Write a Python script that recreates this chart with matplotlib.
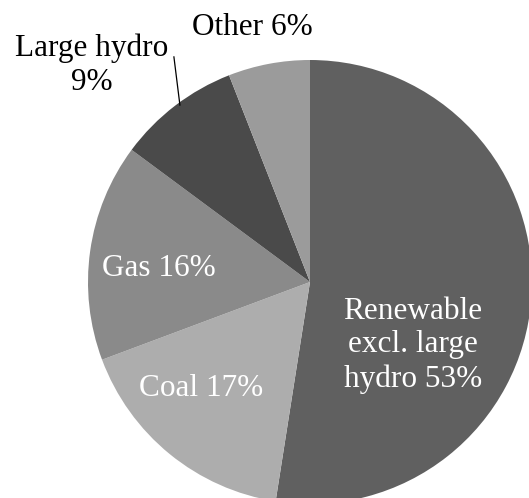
import matplotlib.pyplot as plt

labels = ['Renewable\nexcl. large\nhydro', 'Coal', 'Gas', 'Large hydro\n', 'Other']
shares = [53, 17, 16, 9, 6]
colors = ['#606060', '#adadad', '#8a8a8a', '#4a4a4a', '#9b9b9b']

plt.rcParams['font.family'] = ['Liberation Serif', 'DejaVu Serif']

fig = plt.figure(figsize=(5.29, 4.98), dpi=100)
# pie centre at (310, 282) px from top-left, radius 222 px
cx, cy, r = 310, 282, 222
W, H = 529, 498
ax = fig.add_axes([(cx - r) / W, (H - cy - r) / H, 2 * r / W, 2 * r / H])

ax.pie(shares, colors=colors, startangle=90, counterclock=False,
       wedgeprops=dict(linewidth=0))
ax.set_xlim(-1, 1)
ax.set_ylim(-1, 1)
ax.set_aspect('equal')
ax.set_axis_off()

# label positions (data coords) and text colours
pos = [(0.464, -0.285), (-0.491, -0.48), (-0.68, 0.06), (-0.982, 0.975), (-0.261, 1.145)]
tcol = ['white', 'white', 'white', 'black', 'black']
for lab, v, (x, y), c in zip(labels, shares, pos, tcol):
    txt = lab + ' ' + str(v) + '%' if not lab.endswith('\n') else lab + str(v) + '%'
    ax.text(x, y, txt, ha='center', va='center', color=c, fontsize=22.5,
            linespacing=1.22, clip_on=False)

# leader line for large hydro
ax.plot([-0.613, -0.586], [1.014, 0.797], color='black', lw=0.9, clip_on=False)

fig.savefig('out.png', dpi=100)
